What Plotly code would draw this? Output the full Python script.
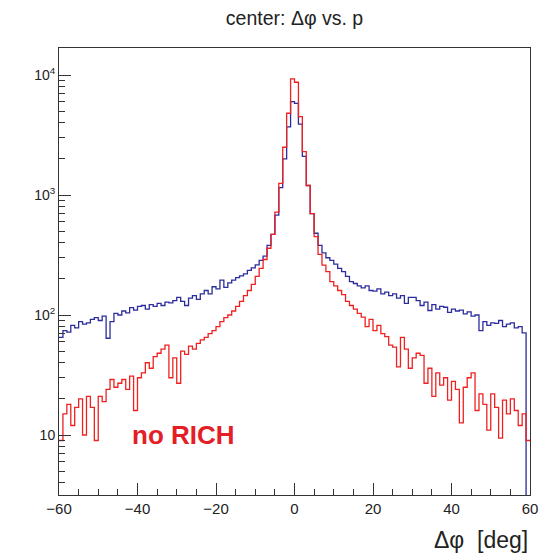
import numpy as np
import plotly.graph_objects as go

# Histogram binning: 120 bins of 1 degree from -60 to 60
bin_edges = list(range(-60, 61))

# "with RICH" (blue) bin contents
blue_counts = [
    65, 74, 72, 82, 78, 88, 84, 86, 92, 95,
    90, 98, 64, 88, 103, 100, 108, 104, 115, 110,
    118, 120, 112, 122, 118, 125, 120, 128, 126, 132,
    140, 130, 120, 138, 145, 135, 150, 160, 150, 172,
    165, 195, 170, 185, 195, 205, 212, 220, 235, 247,
    262, 285, 310, 380, 470, 680, 1150, 2000, 3700, 6000,
    5800, 3900, 2100, 1200, 700, 480, 380, 330, 300, 285,
    265, 245, 230, 210, 190, 183, 175, 168, 175, 160,
    158, 165, 150, 155, 145, 150, 138, 145, 125, 140,
    140, 132, 120, 128, 109, 122, 112, 118, 116, 105,
    112, 108, 110, 102, 106, 98, 100, 74, 88, 82,
    86, 85, 90, 80, 84, 86, 78, 80, 71, 0,
]

# "no RICH" (red) bin contents
red_counts = [
    9, 15, 18, 12, 17, 20, 10, 21, 17, 9,
    21, 19, 24, 29, 25, 27, 29, 24, 31, 16,
    30, 33, 40, 36, 45, 48, 52, 56, 30, 44,
    27, 50, 47, 55, 52, 58, 62, 65, 70, 74,
    80, 88, 95, 100, 108, 118, 130, 145, 160, 180,
    210, 245, 290, 360, 470, 720, 1250, 2500, 4800, 9300,
    8700, 4500, 2300, 1200, 700, 450, 320, 260, 230, 190,
    175, 160, 148, 130, 120, 112, 103, 96, 80, 92,
    74, 82, 70, 66, 56, 54, 37, 65, 52, 36,
    44, 48, 46, 27, 36, 21, 33, 26, 30, 19.5,
    28, 24, 12.6, 25, 30, 33, 16, 22, 18, 11,
    22, 17, 9.4, 19.5, 15, 20, 16, 12, 15, 9,
]

y_tick_vals = [10, 100, 1000, 10000]
y_tick_text = ["10", "10<sup>2</sup>", "10<sup>3</sup>", "10<sup>4</sup>"]
x_tick_vals = [-60, -40, -20, 0, 20, 40, 60]

Y_FLOOR = 0.1  # ROOT draws empty bins down to the frame bottom on log scale


def step_xy(edges, counts):
    ys = [c if c > 0 else Y_FLOOR for c in counts]
    return edges, ys + [ys[-1]]


fig = go.Figure()
bx, by = step_xy(bin_edges, blue_counts)
rx, ry = step_xy(bin_edges, red_counts)
fig.add_trace(go.Scatter(x=bx, y=by, mode="lines", line=dict(color="#2c2c9c", width=1.3, shape="hv"),
                         showlegend=False, name="RICH"))
fig.add_trace(go.Scatter(x=rx, y=ry, mode="lines", line=dict(color="#f02020", width=1.3, shape="hv"),
                         showlegend=False, name="no RICH"))

font_family = "Liberation Sans, Arial, Helvetica, sans-serif"

minor_y = [m * 10 ** d for d in range(0, 5) for m in range(2, 10)]

# page has an 8px body margin; figure sized to fit the 551x557 window
W, H = 543, 549

fig.update_layout(
    width=W, height=H,
    margin=dict(l=51, r=21, t=40, b=62, autoexpand=False),
    paper_bgcolor="white", plot_bgcolor="white",
    font=dict(family=font_family, color="black"),
    title=dict(text="center: Δφ vs. p", x=0.5, xref="paper", xanchor="center",
               y=1 - 10 / H, yanchor="middle", font=dict(size=19.5, color="#222")),
    xaxis=dict(range=[-60, 60], tickvals=x_tick_vals, ticks="inside", ticklen=12, automargin=False,
               tickcolor="#333", showgrid=False, zeroline=False, showline=True, mirror=True,
               linecolor="#333", linewidth=1, tickfont=dict(size=15, color="#222"),
               minor=dict(dtick=5, tick0=0, ticks="inside", ticklen=6, tickcolor="#333", showgrid=False)),
    yaxis=dict(type="log", range=[0.5, 4.225], tickvals=y_tick_vals, ticktext=y_tick_text,
               ticks="inside", ticklen=12, tickcolor="#333", showgrid=False, zeroline=False,
               showline=True, mirror=True, linecolor="#333", linewidth=1, automargin=False,
               tickfont=dict(size=14, color="#222"),
               minor=dict(tickvals=minor_y, ticks="inside", ticklen=6, tickcolor="#333", showgrid=False)),
    annotations=[
        dict(text="Δφ  [deg]", xref="paper", yref="paper", x=1.0, y=-45 / 447, xanchor="right",
             yanchor="middle", showarrow=False, font=dict(size=23, color="#222")),
        dict(text="<b>no RICH</b>", xref="x", yref="y", x=-41.8, y=1.0, xanchor="left",
             yanchor="middle", showarrow=False, font=dict(size=26, color="#e41e26")),
    ],
)

fig.write_html("out.html")
